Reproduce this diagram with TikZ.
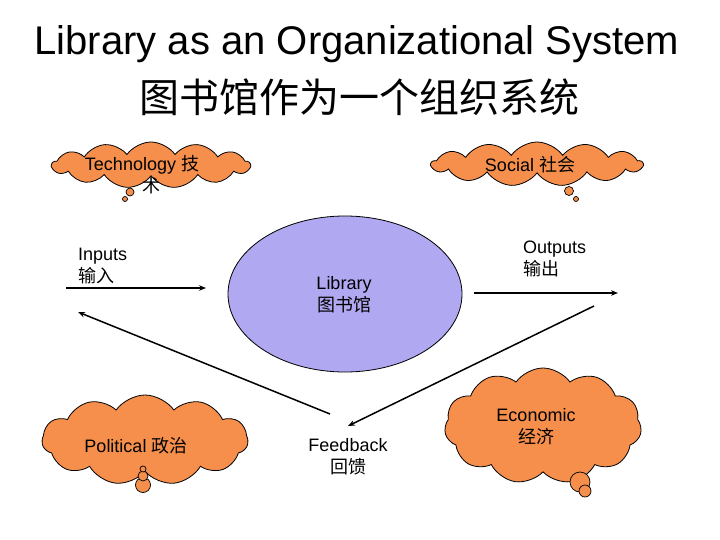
\documentclass[tikz,border=0pt]{standalone}
\usepackage{fontspec}
\setmainfont{Liberation Sans}
\newfontfamily\cjk{Noto Sans CJK SC}
\usetikzlibrary{shapes.symbols,shapes.geometric,arrows.meta}
\definecolor{cloudfill}{RGB}{245,143,75}
\definecolor{libfill}{RGB}{176,168,240}
\tikzset{
  cloudbox/.style={cloud, cloud puffs=#1, cloud puff arc=110, cloud ignores aspect,
    draw=black, line width=0.8pt, fill=cloudfill, inner sep=0pt},
  bubble/.style={circle, draw=black, line width=0.7pt, fill=cloudfill, inner sep=0pt},
  lbl/.style={font=\fontsize{18}{22}\selectfont, inner sep=0pt},
  flow/.style={line width=1.5pt, -{Stealth[length=7pt,width=5.5pt]}}
}
\begin{document}
\begin{tikzpicture}[x=1pt,y=-1pt]
\useasboundingbox (0,0) rectangle (720,540);
% title
\node[font=\fontsize{40}{44}\selectfont] (title) at (357,44) {Library as an Organizational System};
\node[font=\fontsize{40}{44}\selectfont\cjk] (titlecn) at (359,97) {图书馆作为一个组织系统};
% clouds
\node[cloudbox=13, minimum width=198pt, minimum height=46pt] (tech) at (151,165) {};
\node[bubble, minimum size=8pt] (techb1) at (130,192) {};
\node[bubble, minimum size=5pt] (techb2) at (125,199) {};
\node[lbl, align=center] (techt) at (142,175) {Technology {\cjk 技}\\\hspace*{18pt}{\cjk 术}};

\node[cloudbox=13, minimum width=211pt, minimum height=44pt] (social) at (537,164) {};
\node[bubble, minimum size=9pt] (socb1) at (569,191) {};
\node[bubble, minimum size=5pt] (socb2) at (576,199) {};
\node[lbl] (soct) at (530,165) {Social {\cjk 社会}};

\node[cloudbox=11, minimum width=206pt, minimum height=90pt] (pol) at (145,440) {};
\node[bubble, minimum size=15pt] (polb3) at (143,485) {};
\node[bubble, minimum size=10pt] (polb2) at (143,476) {};
\node[bubble, minimum size=6pt] (polb1) at (143,469) {};
\node[lbl] (polt) at (136,446) {Political {\cjk 政治}};

\node[cloudbox=11, minimum width=197pt, minimum height=116pt] (eco) at (543,426) {};
\node[bubble, minimum size=20pt] (ecob1) at (580,482) {};
\node[bubble, minimum size=12pt] (ecob2) at (585,491) {};
\node[lbl, align=center] (ecot) at (536,427) {Economic\\{\cjk 经济}};

% library
\node[ellipse, draw=black, line width=0.8pt, fill=libfill, minimum width=234pt, minimum height=156pt, inner sep=0pt] (lib) at (345,294) {};
\node[lbl, align=center] (libt) at (344,295) {Library\\{\cjk 图书馆}};

% labels
\node[lbl, align=left, anchor=west] (inp) at (78,266) {Inputs\\{\cjk 输入}};
\node[lbl, align=left, anchor=west] (outp) at (523,259) {Outputs\\{\cjk 输出}};
\node[lbl, align=center] (fb) at (348,457) {Feedback\\{\cjk 回馈}};

% arrows
\coordinate (inA) at (66,288);
\coordinate (inB) at (206,288);
\coordinate (outA) at (474,293);
\coordinate (outB) at (618,293);
\coordinate (fbA) at (330,414);
\coordinate (fbB) at (78,312);
\coordinate (fbC) at (594,306);
\coordinate (fbD) at (348,426);
\draw[flow] (inA) -- (inB);
\draw[flow] (outA) -- (outB);
\draw[flow] (fbA) -- (fbB);
\draw[flow] (fbC) -- (fbD);
\end{tikzpicture}
\end{document}
